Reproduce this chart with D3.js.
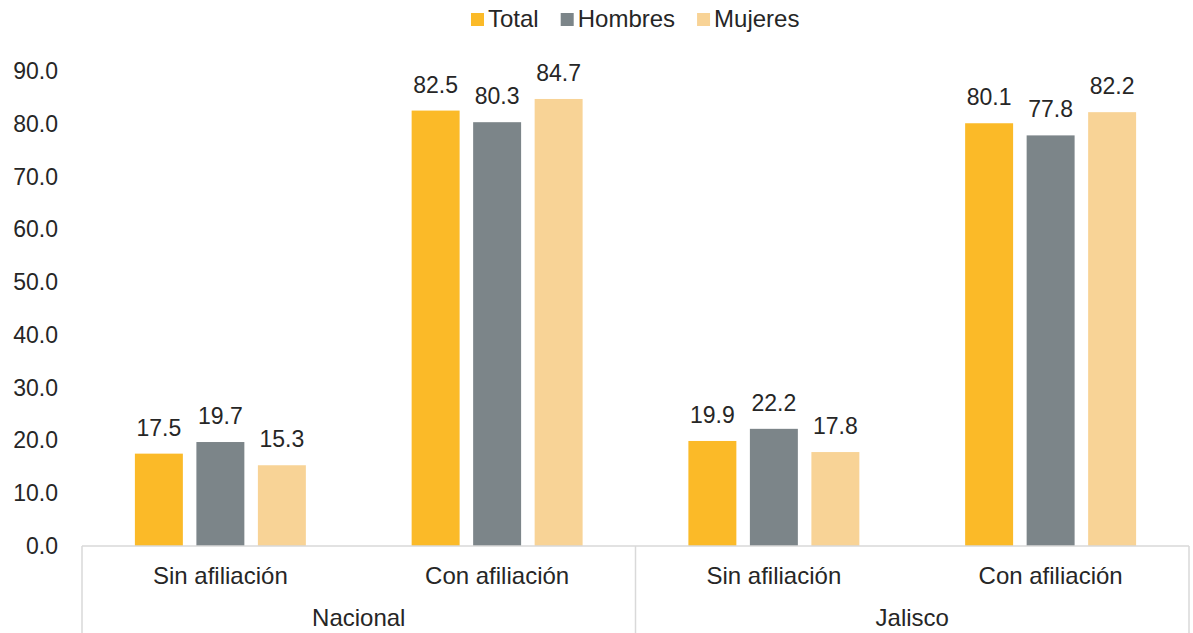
<!DOCTYPE html>
<html>
<head>
<meta charset="utf-8">
<script src="https://cdn.jsdelivr.net/npm/d3@7"></script>
<style>
  body { margin: 0; background: #ffffff; }
  text { font-family: "Liberation Sans", Arial, sans-serif; fill: #262626; }
</style>
</head>
<body>
<div id="chart"></div>
<script>
var regions = ['Nacional', 'Jalisco'];
var categories = ['Sin afiliación', 'Con afiliación'];
var series = ['Total', 'Hombres', 'Mujeres'];

// one value per region/category pair, in order
var total   = [17.5, 82.5, 19.9, 80.1];
var hombres = [19.7, 80.3, 22.2, 77.8];
var mujeres = [15.3, 84.7, 17.8, 82.2];

var yTicks = [0, 10, 20, 30, 40, 50, 60, 70, 80, 90];

var width = 1193,
    height = 633;

var color = d3.scaleOrdinal()
  .domain(series)
  .range(['#fbba28', '#7c8589', '#f8d396']);

var groups = [];
regions.forEach(function(r) {
  categories.forEach(function(c) {
    groups.push({ region: r, category: c, key: r + '|' + c });
  });
});

var values = [total, hombres, mujeres];
groups.forEach(function(g, i) {
  g.values = series.map(function(s, j) {
    return { name: s, value: values[j][i] };
  });
});

var margin = { left: 82, right: 4, top: 71, bottom: 87 };

var x0 = d3.scaleBand()
  .domain(groups.map(function(d) { return d.key; }))
  .range([margin.left, width - margin.right]);

var x1 = d3.scaleBand()
  .domain(series)
  .range([0, x0.bandwidth()])
  .paddingInner(0.22)
  .paddingOuter(0.86);

var y = d3.scaleLinear()
  .domain([0, 90])
  .range([height - margin.bottom, margin.top]);

var fmt = d3.format('.1f');

var svg = d3.select('#chart').append('svg')
  .attr('width', width)
  .attr('height', height);

// y tick labels (no axis line)
svg.append('g').selectAll('text')
  .data(yTicks)
  .enter().append('text')
  .attr('x', 58)
  .attr('y', function(d) { return y(d); })
  .attr('dy', '0.35em')
  .style('text-anchor', 'end')
  .style('font-size', '23px')
  .text(function(d) { return fmt(d); });

// bars
var group = svg.selectAll('.group')
  .data(groups)
  .enter().append('g')
  .attr('class', 'group')
  .attr('transform', function(d) { return 'translate(' + x0(d.key) + ',0)'; });

group.selectAll('rect')
  .data(function(d) { return d.values; })
  .enter().append('rect')
  .attr('x', function(d) { return x1(d.name); })
  .attr('y', function(d) { return y(d.value); })
  .attr('width', x1.bandwidth())
  .attr('height', function(d) { return y(0) - y(d.value); })
  .style('fill', function(d) { return color(d.name); });

group.selectAll('.label')
  .data(function(d) { return d.values; })
  .enter().append('text')
  .attr('class', 'label')
  .attr('x', function(d) { return x1(d.name) + x1.bandwidth() / 2; })
  .attr('y', function(d) { return y(d.value) - 18; })
  .style('text-anchor', 'middle')
  .style('font-size', '23px')
  .text(function(d) { return fmt(d.value); });

// category axis frame
var base = y(0);
var lineColor = '#d9d9d9';
var frame = svg.append('g');

frame.append('line')
  .attr('x1', margin.left).attr('x2', width - margin.right)
  .attr('y1', base).attr('y2', base)
  .style('stroke', lineColor).style('stroke-width', 1.5);

var seps = [margin.left, x0(groups[2].key), width - margin.right];
frame.selectAll('.sep')
  .data(seps)
  .enter().append('line')
  .attr('class', 'sep')
  .attr('x1', function(d) { return d; }).attr('x2', function(d) { return d; })
  .attr('y1', base).attr('y2', height)
  .style('stroke', lineColor).style('stroke-width', 1.5);

frame.selectAll('.cat')
  .data(groups)
  .enter().append('text')
  .attr('class', 'cat')
  .attr('x', function(d) { return x0(d.key) + x0.bandwidth() / 2; })
  .attr('y', 576)
  .attr('dy', '0.35em')
  .style('text-anchor', 'middle')
  .style('font-size', '24px')
  .text(function(d) { return d.category; });

frame.selectAll('.region')
  .data(regions)
  .enter().append('text')
  .attr('class', 'region')
  .attr('x', function(d) {
    return x0(d + '|' + categories[0]) + x0.bandwidth();
  })
  .attr('y', 618)
  .attr('dy', '0.35em')
  .style('text-anchor', 'middle')
  .style('font-size', '24px')
  .text(function(d) { return d; });

// legend
var legend = svg.append('g').attr('class', 'legend');
var lx = 471;
series.forEach(function(s) {
  legend.append('rect')
    .attr('x', lx).attr('y', 13)
    .attr('width', 13).attr('height', 13)
    .style('fill', color(s));
  var t = legend.append('text')
    .attr('x', lx + 17).attr('y', 19)
    .attr('dy', '0.35em')
    .style('font-size', '24px')
    .text(s);
  lx += 17 + t.node().getComputedTextLength() + 22;
});
</script>
</body>
</html>
